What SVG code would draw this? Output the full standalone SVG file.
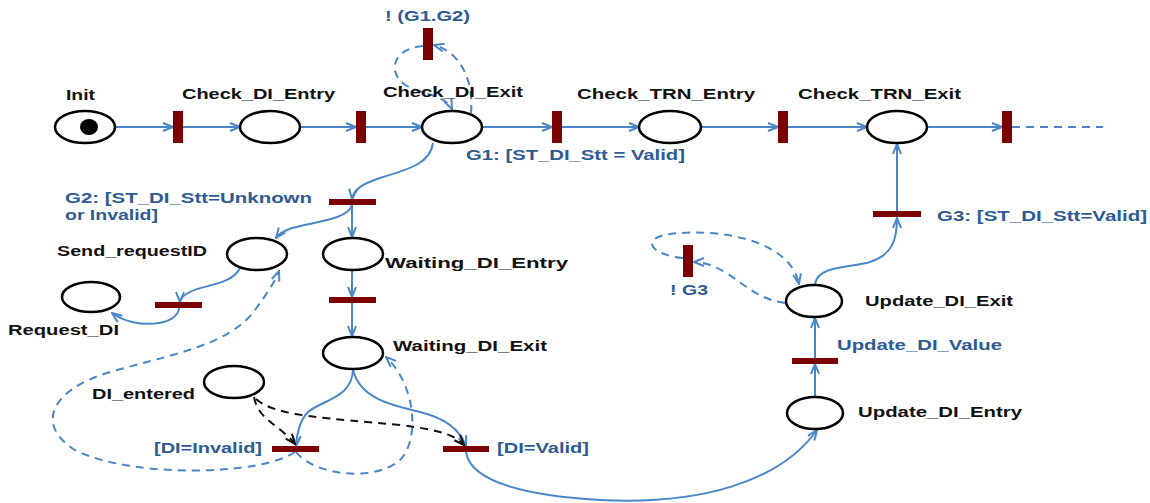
<svg xmlns="http://www.w3.org/2000/svg" width="1150" height="503" viewBox="0 0 1150 503">
  <style>
    .pl { fill: #fff; stroke: #000; stroke-width: 2.5; }
    .tr { fill: #7d0000; }
    .lb { font-family: "Liberation Sans", Arial, sans-serif; font-weight: bold; font-size: 14px; fill: #111; }
    .gd { fill: #2d5b93; }
    .c { fill: none; stroke: #4a87c9; stroke-width: 2; }
    .d { stroke-dasharray: 8 6; }
    .k { stroke: #111; }
    .ea { marker-end: url(#arr); }
    .ek { marker-end: url(#arrk); }
  </style>
  <defs>
    <marker id="arr" viewBox="0 0 12 10" refX="11" refY="5" markerWidth="12" markerHeight="10" markerUnits="userSpaceOnUse" orient="auto">
      <path d="M1,1 L11,5 L1,9" fill="none" stroke="#4a87c9" stroke-width="2"/>
    </marker>
    <marker id="arrk" viewBox="0 0 12 10" refX="11" refY="5" markerWidth="12" markerHeight="10" markerUnits="userSpaceOnUse" orient="auto">
      <path d="M1,1 L11,5 L1,9" fill="none" stroke="#111" stroke-width="2"/>
    </marker>
  </defs>

  <!-- arcs of the net -->
  <g id="connectors">
    <!-- main line -->
    <path class="c ea" d="M115,127 H173"/>
    <path class="c ea" d="M182,127 H240"/>
    <path class="c ea" d="M300,127 H356"/>
    <path class="c ea" d="M366,127 H422"/>
    <path class="c ea" d="M482,127 H552"/>
    <path class="c ea" d="M562,127 H639"/>
    <path class="c ea" d="M701,127 H778"/>
    <path class="c ea" d="M788,127 H867"/>
    <path class="c ea" d="M927,127 H1002"/>
    <path class="c d" d="M1012,127 H1103"/>

    <!-- self loop on Check_DI_Exit -->
    <path class="c d ea" d="M471,113 C474,80 460,52 434,45"/>
    <path class="c d ea" d="M423,46 C395,48 386,70 404,84 C420,95 445,94 452,109"/>

    <!-- G2 branch -->
    <path class="c ea" d="M433,143 C430,165 405,170 380,178 C362,184 353,190 352,199"/>
    <path class="c ea" d="M352,205 C348,220 312,222 292,228 C283,231 279,234 276,238"/>
    <path class="c ea" d="M352,205 V237"/>
    <path class="c ea" d="M240,268 C232,285 202,285 190,292 C183,296 180,298 180,302"/>
    <path class="c ea" d="M179,308 C178,326 135,330 112,313"/>
    <path class="c ea" d="M352,271 V297"/>
    <path class="c ea" d="M352,303 V336"/>

    <!-- Waiting_DI_Exit choices -->
    <path class="c ea" d="M353,370 C352,398 322,400 308,412 C300,420 297,432 296,446"/>
    <path class="c ea" d="M353,370 C360,398 390,405 420,412 C445,418 460,430 466,446"/>
    <path class="c d ea" d="M295,452 C260,476 130,478 75,450 C35,425 50,390 110,372 C170,355 230,345 255,310 C266,295 275,282 279,271"/>
    <path class="c d ea" d="M296,452 C315,476 375,482 400,460 C420,440 416,385 386,357"/>
    <path class="c k d ek" d="M254,397 C258,420 280,425 295,444"/>
    <path class="c k d ek" d="M256,399 C276,417 330,418 400,425 C440,430 455,435 464,445"/>

    <!-- update chain -->
    <path class="c ea" d="M466,452 C470,480 520,495 600,500 C700,505 780,482 817,430"/>
    <path class="c ea" d="M815,396 V364"/>
    <path class="c ea" d="M815,358 V318"/>
    <path class="c ea" d="M815,284 C818,265 850,268 870,262 C892,255 897,240 897,218"/>
    <path class="c ea" d="M897,211 V144"/>
    <path class="c d ea" d="M785,303 C760,300 745,285 725,272 C712,265 703,262 694,262"/>
    <path class="c d ea" d="M683,258 C650,255 640,238 670,234 C720,228 790,240 799,284"/>
  </g>

  <!-- places -->
  <g id="init">
    <ellipse class="pl" cx="85" cy="127" rx="30" ry="16"/>
    <ellipse cx="89" cy="127" rx="9" ry="8" fill="#000"/>
    <text class="lb" x="66" y="100" textLength="29" lengthAdjust="spacingAndGlyphs">Init</text>
  </g>
  <g id="check-di-entry">
    <ellipse class="pl" cx="270" cy="127" rx="30" ry="16"/>
    <text class="lb" x="182" y="99" textLength="153" lengthAdjust="spacingAndGlyphs">Check_DI_Entry</text>
  </g>
  <g id="check-di-exit">
    <ellipse class="pl" cx="452" cy="127" rx="30" ry="16"/>
    <text class="lb" x="383" y="97" textLength="140" lengthAdjust="spacingAndGlyphs">Check_DI_Exit</text>
  </g>
  <g id="check-trn-entry">
    <ellipse class="pl" cx="670" cy="127" rx="31" ry="16"/>
    <text class="lb" x="577" y="99" textLength="178" lengthAdjust="spacingAndGlyphs">Check_TRN_Entry</text>
  </g>
  <g id="check-trn-exit">
    <ellipse class="pl" cx="897" cy="127" rx="30" ry="16"/>
    <text class="lb" x="798" y="99" textLength="163" lengthAdjust="spacingAndGlyphs">Check_TRN_Exit</text>
  </g>
  <g id="send-request-id">
    <ellipse class="pl" cx="257" cy="254" rx="30" ry="16"/>
    <text class="lb" x="57" y="256" textLength="150" lengthAdjust="spacingAndGlyphs">Send_requestID</text>
  </g>
  <g id="request-di">
    <ellipse class="pl" cx="91" cy="297" rx="29" ry="15"/>
    <text class="lb" x="8" y="335" textLength="111" lengthAdjust="spacingAndGlyphs">Request_DI</text>
  </g>
  <g id="waiting-di-entry">
    <ellipse class="pl" cx="353" cy="254" rx="30" ry="16"/>
    <text class="lb" x="385" y="268" textLength="183" lengthAdjust="spacingAndGlyphs">Waiting_DI_Entry</text>
  </g>
  <g id="waiting-di-exit">
    <ellipse class="pl" cx="353" cy="353" rx="30" ry="16"/>
    <text class="lb" x="393" y="351" textLength="154" lengthAdjust="spacingAndGlyphs">Waiting_DI_Exit</text>
  </g>
  <g id="di-entered">
    <ellipse class="pl" cx="234" cy="382" rx="30" ry="16"/>
    <text class="lb" x="92" y="399" textLength="103" lengthAdjust="spacingAndGlyphs">DI_entered</text>
  </g>
  <g id="update-di-entry">
    <ellipse class="pl" cx="815" cy="413" rx="28" ry="16"/>
    <text class="lb" x="858" y="417" textLength="164" lengthAdjust="spacingAndGlyphs">Update_DI_Entry</text>
  </g>
  <g id="update-di-exit">
    <ellipse class="pl" cx="814" cy="301" rx="28" ry="16"/>
    <text class="lb" x="865" y="306" textLength="148" lengthAdjust="spacingAndGlyphs">Update_DI_Exit</text>
  </g>

  <!-- transitions -->
  <g id="t-init"><rect class="tr" x="173" y="111" width="10" height="32"/></g>
  <g id="t-check-di"><rect class="tr" x="356" y="111" width="10" height="32"/></g>
  <g id="t-g1">
    <rect class="tr" x="552" y="111" width="10" height="32"/>
    <text class="lb gd" x="466" y="160" textLength="219" lengthAdjust="spacingAndGlyphs">G1: [ST_DI_Stt = Valid]</text>
  </g>
  <g id="t-check-trn"><rect class="tr" x="778" y="111" width="10" height="32"/></g>
  <g id="t-trn-out"><rect class="tr" x="1002" y="111" width="10" height="32"/></g>
  <g id="t-not-g1g2">
    <rect class="tr" x="423" y="28" width="10" height="32"/>
    <text class="lb gd" x="385" y="21" textLength="85" lengthAdjust="spacingAndGlyphs">! (G1.G2)</text>
  </g>
  <g id="t-g2">
    <rect class="tr" x="329" y="199" width="47" height="6"/>
    <text class="lb gd" x="65" y="203" textLength="247" lengthAdjust="spacingAndGlyphs">G2: [ST_DI_Stt=Unknown</text>
    <text class="lb gd" x="65" y="220" textLength="93" lengthAdjust="spacingAndGlyphs">or Invalid]</text>
  </g>
  <g id="t-send"><rect class="tr" x="155" y="302" width="47" height="6"/></g>
  <g id="t-wait"><rect class="tr" x="329" y="297" width="47" height="6"/></g>
  <g id="t-di-invalid">
    <rect class="tr" x="272" y="446" width="47" height="6"/>
    <text class="lb gd" x="154" y="453" textLength="108" lengthAdjust="spacingAndGlyphs">[DI=Invalid]</text>
  </g>
  <g id="t-di-valid">
    <rect class="tr" x="443" y="446" width="46" height="6"/>
    <text class="lb gd" x="497" y="453" textLength="92" lengthAdjust="spacingAndGlyphs">[DI=Valid]</text>
  </g>
  <g id="t-update-value">
    <rect class="tr" x="792" y="358" width="46" height="6"/>
    <text class="lb gd" x="837" y="350" textLength="165" lengthAdjust="spacingAndGlyphs">Update_DI_Value</text>
  </g>
  <g id="t-g3">
    <rect class="tr" x="873" y="211" width="48" height="6"/>
    <text class="lb gd" x="937" y="221" textLength="210" lengthAdjust="spacingAndGlyphs">G3: [ST_DI_Stt=Valid]</text>
  </g>
  <g id="t-not-g3">
    <rect class="tr" x="683" y="245" width="10" height="32"/>
    <text class="lb gd" x="670" y="295" textLength="38" lengthAdjust="spacingAndGlyphs">! G3</text>
  </g>
</svg>
